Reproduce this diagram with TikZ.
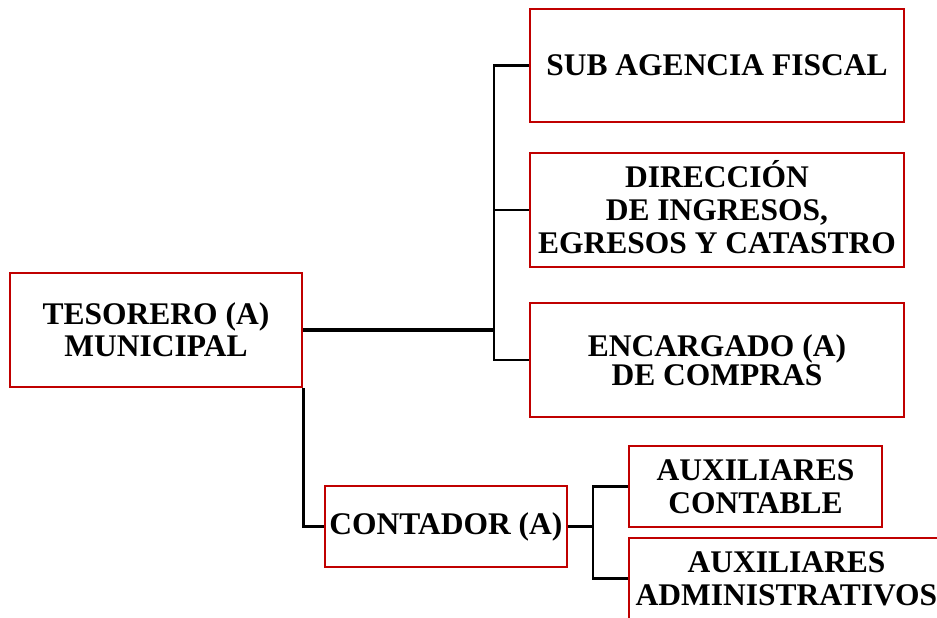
\documentclass[tikz,border=0pt]{standalone}
\usepackage{fontspec}
\setmainfont{Liberation Serif}
\definecolor{boxred}{RGB}{192,0,0}
\tikzset{
  orgbox/.style={draw=boxred, line width=2.6pt, fill=white, inner sep=0pt,
    align=center, text=black, font=\bfseries\fontsize{31.5}{33}\selectfont},
  conn/.style={draw=black, line width=2.6pt},
  mainconn/.style={draw=black, line width=3.4pt}
}
\begin{document}
\begin{tikzpicture}[x=1pt, y=-1pt]
\useasboundingbox (0,0) rectangle (937,618);
\clip (0,0) rectangle (937,618);
% boxes
\node[orgbox, minimum width=292pt, minimum height=114pt, font=\bfseries\fontsize{31.5}{32}\selectfont] (tes) at (156,330) {TESORERO (A)\\MUNICIPAL};
\node[orgbox, minimum width=374pt, minimum height=113pt] (sub) at (717,65.5) {SUB AGENCIA FISCAL};
\node[orgbox, minimum width=374pt, minimum height=114pt] (dir) at (717,210) {DIRECCI\smash{Ó}N\\DE INGRESOS,\\EGRESOS Y CATASTRO};
\node[orgbox, minimum width=374pt, minimum height=114pt, font=\bfseries\fontsize{31.5}{29}\selectfont] (enc) at (717,360) {ENCARGADO (A)\\DE COMPRAS};
\node[orgbox, minimum width=242pt, minimum height=81pt] (con) at (446,526.5) {CONTADOR (A)};
\node[orgbox, minimum width=253pt, minimum height=81pt] (auxc) at (755.5,486.5) {AUXILIARES\\CONTABLE};
\node[orgbox, minimum width=315pt, minimum height=81pt] (auxa) at (786.5,578.5) {AUXILIARES\\ADMINISTRATIVOS};
% junction points
\coordinate (busA) at (494,330);
\coordinate (busB) at (593,526.5);
% connectors
\draw[mainconn] (tes.east) -- (busA);
\draw[conn, line join=miter] (sub.west) -| (busA |- enc.west) -- (enc.west);
\draw[conn] (dir.west) -- (dir.west -| busA);
\draw[conn, line join=miter] (tes.south east) |- (con.west);
\draw[conn] (con.east) -- (busB);
\draw[conn, line join=miter] (auxc.west) -| (busB |- auxa.west) -- (auxa.west);
\end{tikzpicture}
\end{document}
